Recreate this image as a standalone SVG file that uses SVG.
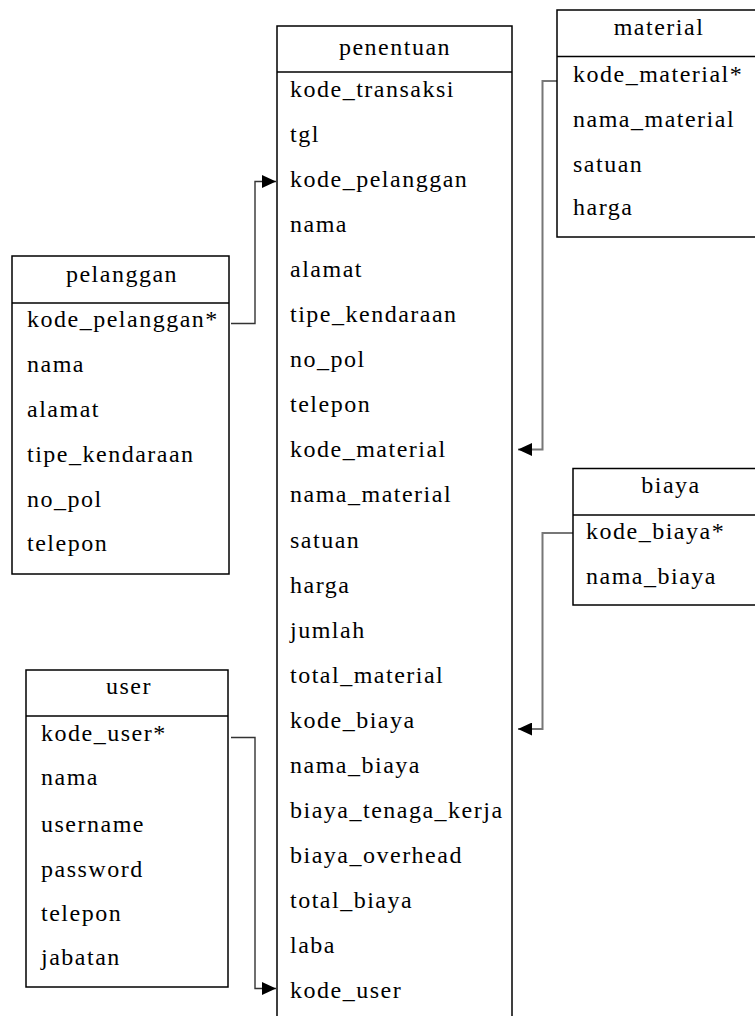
<svg xmlns="http://www.w3.org/2000/svg" width="755" height="1016" viewBox="0 0 755 1016">
<style>
.box{fill:#fff;stroke:#000;stroke-width:1.5}
.div{stroke:#000;stroke-width:1.5}
text{font-family:"Liberation Serif","Times New Roman",serif;font-size:24px;letter-spacing:1.5px;fill:#000}
.h{text-anchor:middle}
.cl{fill:none;stroke:#333;stroke-width:1.4}
.cr{fill:none;stroke:#777;stroke-width:2}
</style>
<defs>
<marker id="arr" markerUnits="userSpaceOnUse" markerWidth="15" markerHeight="13" refX="14" refY="6.5" orient="auto">
<path d="M0,0 L14,6.5 L0,13 z" fill="#000"/>
</marker>
</defs>
<rect width="755" height="1016" fill="#fff"/>
<g id="connectors">
<path class="cl" d="M231,323.5 H255 V181.5 H276" marker-end="url(#arr)"/>
<path class="cl" d="M231,737.5 H255 V988.5 H276" marker-end="url(#arr)"/>
<path class="cr" d="M557,81 H542.5 V449.5 H518" marker-end="url(#arr)"/>
<path class="cr" d="M573,533 H542.5 V729 H518" marker-end="url(#arr)"/>
</g>
<g id="penentuan">
<rect class="box" x="277" y="26" width="235" height="1010"/>
<line class="div" x1="277" y1="72" x2="512" y2="72"/>
<text class="h" x="395" y="55">penentuan</text>
<text x="290" y="97">kode_transaksi</text>
<text x="290" y="142">tgl</text>
<text x="290" y="187">kode_pelanggan</text>
<text x="290" y="232">nama</text>
<text x="290" y="277">alamat</text>
<text x="290" y="322">tipe_kendaraan</text>
<text x="290" y="367">no_pol</text>
<text x="290" y="412">telepon</text>
<text x="290" y="457">kode_material</text>
<text x="290" y="502">nama_material</text>
<text x="290" y="547.5">satuan</text>
<text x="290" y="592.5">harga</text>
<text x="290" y="637.5">jumlah</text>
<text x="290" y="682.5">total_material</text>
<text x="290" y="727.5">kode_biaya</text>
<text x="290" y="772.5">nama_biaya</text>
<text x="290" y="817.5">biaya_tenaga_kerja</text>
<text x="290" y="862.5">biaya_overhead</text>
<text x="290" y="907.5">total_biaya</text>
<text x="290" y="952.5">laba</text>
<text x="290" y="998">kode_user</text>
</g>
<g id="pelanggan">
<rect class="box" x="12" y="256" width="217" height="318"/>
<line class="div" x1="12" y1="303" x2="229" y2="303"/>
<text class="h" x="122" y="282">pelanggan</text>
<text x="27" y="326.5">kode_pelanggan*</text>
<text x="27" y="371.5">nama</text>
<text x="27" y="417">alamat</text>
<text x="27" y="461.5">tipe_kendaraan</text>
<text x="27" y="506.5">no_pol</text>
<text x="27" y="550.5">telepon</text>
</g>
<g id="user">
<rect class="box" x="26" y="670" width="202" height="317"/>
<line class="div" x1="26" y1="716" x2="228" y2="716"/>
<text class="h" x="129" y="694">user</text>
<text x="41" y="740.5">kode_user*</text>
<text x="41" y="785">nama</text>
<text x="41" y="831.5">username</text>
<text x="41" y="876.5">password</text>
<text x="41" y="920.5">telepon</text>
<text x="41" y="965">jabatan</text>
</g>
<g id="material">
<rect class="box" x="557" y="10" width="220" height="227"/>
<line class="div" x1="557" y1="56.5" x2="777" y2="56.5"/>
<text class="h" x="659" y="35">material</text>
<text x="573" y="81.5">kode_material*</text>
<text x="573" y="127">nama_material</text>
<text x="573" y="171.5">satuan</text>
<text x="573" y="215">harga</text>
</g>
<g id="biaya">
<rect class="box" x="573" y="468.5" width="200" height="136.5"/>
<line class="div" x1="573" y1="515" x2="773" y2="515"/>
<text class="h" x="671" y="492.5">biaya</text>
<text x="586" y="538.5">kode_biaya*</text>
<text x="586" y="583.5">nama_biaya</text>
</g>
</svg>
